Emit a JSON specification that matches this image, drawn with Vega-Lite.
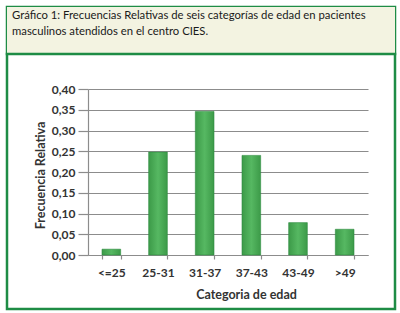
{
  "$schema": "https://vega.github.io/schema/vega-lite/v6.json",
  "padding": {"left": 5, "top": 5, "right": 7, "bottom": 5},
  "background": "white",
  "spacing": 0,
  "bounds": "flush",
  "config": {"font": "Lato", "concat": {"spacing": 0}},
  "datasets": {
    "frecuencias": [
      {"categoria": "<=25", "frecuencia": 0.014},
      {"categoria": "25-31", "frecuencia": 0.248},
      {"categoria": "31-37", "frecuencia": 0.346},
      {"categoria": "37-43", "frecuencia": 0.240},
      {"categoria": "43-49", "frecuencia": 0.078},
      {"categoria": ">49", "frecuencia": 0.062}
    ]
  },
  "vconcat": [
    {
      "width": 388,
      "height": 47,
      "view": {"fill": "#f3f3e1", "stroke": "#1e8c45", "strokeWidth": 2.5},
      "title": {
        "text": ["Gráfico 1: Frecuencias Relativas de seis categorías de edad en pacientes", "masculinos atendidos en el centro CIES."],
        "anchor": "start",
        "frame": "group",
        "orient": "top",
        "offset": 0,
        "baseline": "top",
        "dx": 5,
        "dy": 30,
        "fontSize": 11.3,
        "fontWeight": "normal",
        "color": "#1a1a1a",
        "lineHeight": 16
      },
      "data": {"values": [{}]},
      "mark": {"type": "rect", "fill": "#f3f3e1"},
      "encoding": {}
    },
    {
      "width": 388,
      "height": 255,
      "view": {"fill": "white", "stroke": "#1e8c45", "strokeWidth": 2.5},
      "data": {"name": "frecuencias"},
      "mark": {
        "type": "bar",
        "fill": {"gradient": "linear", "x1": 0, "x2": 1, "y1": 0, "y2": 0, "stops": [{"offset": 0, "color": "#3c9a48"}, {"offset": 0.5, "color": "#56b862"}, {"offset": 1, "color": "#3c9a48"}]},
        "stroke": "#2e8b3f",
        "strokeWidth": 0.6
      },
      "encoding": {
        "x": {
          "field": "categoria",
          "type": "nominal",
          "sort": null,
          "scale": {"domain": ["<=25", "25-31", "31-37", "37-43", "43-49", ">49"], "paddingInner": 0.6, "paddingOuter": 0.3, "range": [81, 361]},
          "axis": {
            "orient": "bottom", "offset": -54, "domain": true, "domainColor": "#8c8c8c", "domainWidth": 1.2,
            "tickBand": "extent", "tickSize": 4, "tickColor": "#8c8c8c", "tickWidth": 1.2,
            "labelAngle": 0, "labelPadding": 8, "labelFontSize": 12, "labelFontWeight": "bold", "labelColor": "#333333",
            "title": "Categoria de edad", "titleFontSize": 12.5, "titleFontWeight": "bold", "titleColor": "#333333",
            "titleX": 239, "titleY": 33
          }
        },
        "y": {
          "field": "frecuencia",
          "type": "quantitative",
          "scale": {"domain": [0, 0.4], "nice": false, "range": [201, 35]},
          "axis": {
            "orient": "left", "offset": -81, "values": [0, 0.05, 0.1, 0.15, 0.2, 0.25, 0.3, 0.35, 0.4],
            "labelExpr": "replace(format(datum.value, '.2f'), '.', ',')",
            "ticks": true, "tickSize": 10, "tickColor": "#8c8c8c", "tickWidth": 1.2,
            "domain": true, "domainColor": "#8c8c8c", "domainWidth": 1.2,
            "grid": true, "gridColor": "#8c8c8c", "gridWidth": 1.2,
            "labelPadding": 3,
            "labelFontSize": 12, "labelFontWeight": "bold", "labelColor": "#333333",
            "title": "Frecuencia Relativa", "titleFontSize": 12.5, "titleFontWeight": "bold", "titleColor": "#333333",
            "titleX": -48, "titleY": 121, "titleBaseline": "middle", "titleAngle": 270
          }
        }
      }
    }
  ]
}
